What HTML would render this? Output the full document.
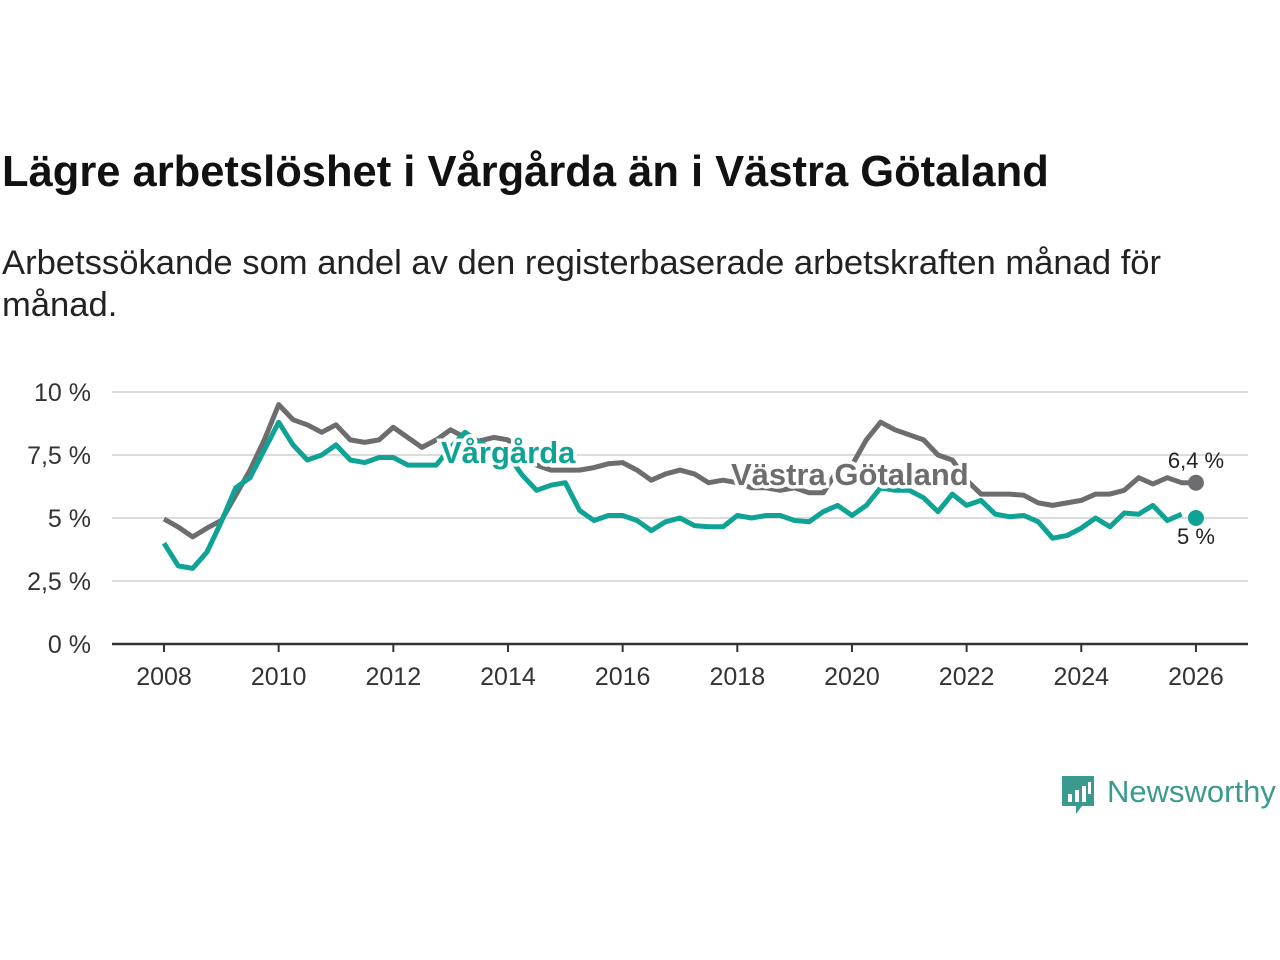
<!DOCTYPE html>
<html><head><meta charset="utf-8"><style>
body{margin:0;background:#fff;width:1280px;height:960px;overflow:hidden;font-family:"Liberation Sans",sans-serif}
.t{position:absolute;left:2px;top:148px;font-size:43.5px;font-weight:bold;color:#111;margin:0;white-space:nowrap}
.s{position:absolute;left:2px;top:242px;font-size:34.6px;color:#222;line-height:42px;width:1270px;margin:0;white-space:nowrap}
svg{position:absolute;left:0;top:0}
</style></head><body>
<h1 class="t">Lägre arbetslöshet i Vårgårda än i Västra Götaland</h1>
<p class="s">Arbetssökande som andel av den registerbaserade arbetskraften månad för<br>månad.</p>
<svg id="c" width="1280" height="960"></svg>
<script>
const yTicks=[0,2.5,5,7.5,10];
const yTickLabels=["0 %","2,5 %","5 %","7,5 %","10 %"];
const xTicks=[2008,2010,2012,2014,2016,2018,2020,2022,2024,2026];
const startYear=2008, step=0.25;
const vg=[4.96,4.64,4.25,4.6,4.9,5.9,6.9,8.1,9.5,8.9,8.7,8.4,8.7,8.1,8.0,8.1,8.6,8.2,7.8,8.1,8.5,8.2,8.05,8.2,8.1,7.5,7.1,6.9,6.9,6.9,7.0,7.15,7.2,6.9,6.5,6.75,6.9,6.75,6.4,6.5,6.4,6.2,6.2,6.1,6.2,6.0,6.0,6.9,7.1,8.1,8.8,8.5,8.3,8.1,7.5,7.3,6.5,5.95,5.95,5.95,5.9,5.6,5.5,5.6,5.7,5.95,5.95,6.1,6.6,6.35,6.6,6.4,6.4];
const va=[4.0,3.1,3.0,3.65,4.85,6.2,6.6,7.7,8.8,7.9,7.3,7.5,7.9,7.3,7.2,7.4,7.4,7.1,7.1,7.1,7.8,8.4,8.0,7.7,7.5,6.7,6.1,6.3,6.4,5.3,4.9,5.1,5.1,4.9,4.5,4.85,5.0,4.7,4.65,4.65,5.1,5.0,5.1,5.1,4.9,4.85,5.25,5.5,5.1,5.5,6.2,6.1,6.1,5.8,5.25,5.95,5.5,5.7,5.15,5.05,5.1,4.85,4.2,4.3,4.6,5.0,4.65,5.2,5.15,5.5,4.9,5.15,5.0];
const X=y=>164+(y-2008)*57.33, Y=v=>644-v*25.2;
const NS="http://www.w3.org/2000/svg", svg=document.getElementById('c');
function mk(t,a,txt){const e=document.createElementNS(NS,t);for(const k in a)e.setAttribute(k,a[k]);if(txt!==undefined)e.textContent=txt;svg.appendChild(e);return e;}
yTicks.forEach((v,i)=>{
 if(v>0){const g=mk('line',{x1:112,x2:1248,y1:Y(v),y2:Y(v),stroke:'#dcdcdc','stroke-width':2});
 
 }
 const t=mk('text',{x:91,y:Y(v)+9,'text-anchor':'end','font-size':25,fill:'#333'},yTickLabels[i]);
 
 
});
const ax=mk('line',{x1:112,x2:1248,y1:644,y2:644,stroke:'#333','stroke-width':2.5});


xTicks.forEach(y=>{
 const tk=mk('line',{x1:X(y),x2:X(y),y1:644,y2:652,stroke:'#333','stroke-width':2});
 
 
 const t=mk('text',{x:X(y),y:685,'text-anchor':'middle','font-size':25,fill:'#333'},y);
 
 
});
function pts(arr,n){return arr.slice(0,n).map((v,i)=>X(startYear+i*step).toFixed(1)+','+Y(v).toFixed(1)).join(' ');}
const l1=mk('polyline',{points:pts(vg,vg.length),fill:'none',stroke:'#6d6d70','stroke-width':5,'stroke-linejoin':'round'});


const l2=mk('polyline',{points:pts(va,va.length-1),fill:'none',stroke:'#0fa396','stroke-width':5,'stroke-linejoin':'round'});


const n=vg.length-1;
const d1=mk('circle',{cx:X(startYear+n*step),cy:Y(vg[n]),r:8,fill:'#6d6d70'});


const d2=mk('circle',{cx:X(startYear+(va.length-1)*step),cy:Y(va[va.length-1]),r:8,fill:'#0fa396'});


const e1=mk('text',{x:1196,y:468,'text-anchor':'middle','font-size':22,fill:'#222'},'6,4 %');


const e2=mk('text',{x:1196,y:544,'text-anchor':'middle','font-size':22,fill:'#222'},'5 %');


const s1=mk('text',{x:441,y:463,'font-size':31,'font-weight':'bold',fill:'#0fa396',stroke:'#fff','stroke-width':7,'paint-order':'stroke'},'Vårgårda');


const s2=mk('text',{x:731,y:485,'font-size':31,'font-weight':'bold',fill:'#6d6d70',stroke:'#fff','stroke-width':7,'paint-order':'stroke'},'Västra Götaland');


</script>
<div style="position:absolute;left:1060px;top:774px;display:flex;align-items:center">
<svg width="36" height="44" style="position:static"><path d="M2 2h32v30H22l-6 8v-8H2z" fill="#3a9a8f"/><rect x="8" y="20" width="4" height="8" fill="#fff"/><rect x="15" y="16" width="4" height="12" fill="#fff"/><rect x="22" y="12" width="4" height="16" fill="#fff"/><rect x="28" y="8" width="3" height="12" fill="#fff"/></svg>
<span style="font-size:31px;color:#3a9a8f;margin-left:11px;margin-top:-8px">Newsworthy</span></div>
</body></html>
